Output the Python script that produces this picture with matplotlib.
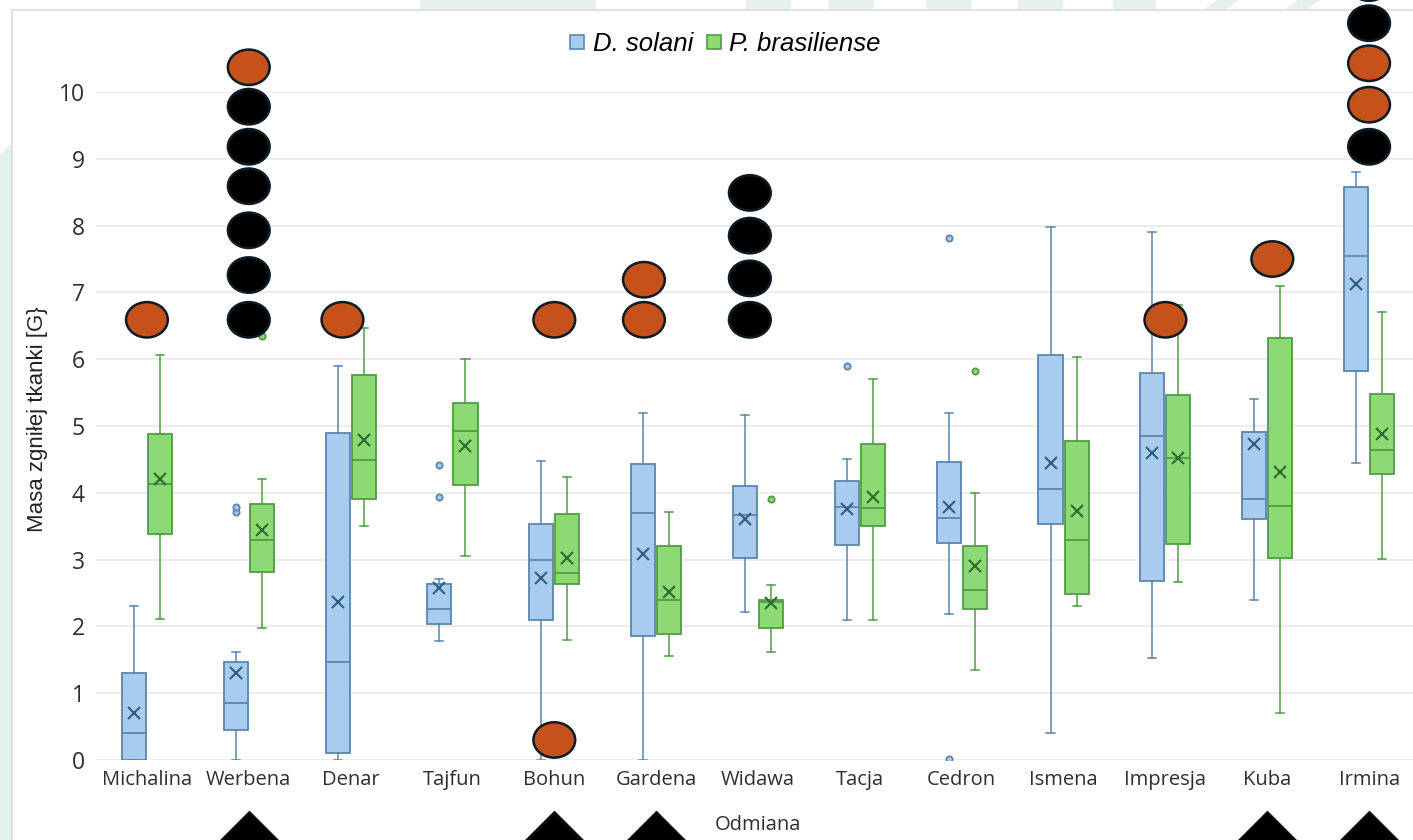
import matplotlib
matplotlib.use("Agg")
import matplotlib.pyplot as plt
from matplotlib.patches import Ellipse, Rectangle, Polygon
from matplotlib.lines import Line2D

odmiany = ["Michalina", "Werbena", "Denar", "Tajfun", "Bohun", "Gardena", "Widawa",
           "Tacja", "Cedron", "Ismena", "Impresja", "Kuba", "Irmina"]

# D. solani
ds_whislo = [0.0, 0.0, 0.0, 1.78, 0.0, 0.0, 2.21, 2.10, 2.19, 0.40, 1.52, 2.40, 4.45]
ds_q1 = [0.0, 0.45, 0.11, 2.03, 2.10, 1.85, 3.02, 3.22, 3.25, 3.54, 2.68, 3.61, 5.83]
ds_med = [0.41, 0.86, 1.46, 2.26, 3.00, 3.70, 3.67, 3.79, 3.63, 4.06, 4.85, 3.90, 7.55]
ds_q3 = [1.30, 1.47, 4.90, 2.63, 3.54, 4.43, 4.10, 4.17, 4.46, 6.06, 5.80, 4.91, 8.58]
ds_whishi = [2.31, 1.61, 5.90, 2.71, 4.47, 5.20, 5.16, 4.50, 5.20, 7.98, 7.91, 5.41, 8.80]
ds_mean = [0.71, 1.30, 2.37, 2.58, 2.73, 3.09, 3.61, 3.76, 3.79, 4.44, 4.59, 4.73, 7.13]
ds_fliers = [[], [3.72, 3.79], [], [3.94, 4.41], [], [], [], [5.90], [0.02, 7.82],
             [], [], [], []]

# P. brasiliense
pb_whislo = [2.11, 1.97, 3.50, 3.06, 1.80, 1.56, 1.61, 2.10, 1.35, 2.31, 2.67, 0.70, 3.01]
pb_q1 = [3.38, 2.82, 3.91, 4.12, 2.63, 1.88, 1.98, 3.50, 2.26, 2.48, 3.23, 3.03, 4.28]
pb_med = [4.13, 3.29, 4.49, 4.93, 2.80, 2.40, 2.36, 3.77, 2.55, 3.30, 4.52, 3.80, 4.64]
pb_q3 = [4.88, 3.83, 5.76, 5.35, 3.69, 3.20, 2.40, 4.73, 3.20, 4.78, 5.46, 6.31, 5.48]
pb_whishi = [6.06, 4.20, 6.47, 6.00, 4.24, 3.72, 2.62, 5.70, 4.00, 6.04, 6.81, 7.10, 6.71]
pb_mean = [4.20, 3.44, 4.79, 4.70, 3.03, 2.52, 2.35, 3.94, 2.90, 3.73, 4.52, 4.31, 4.88]
pb_fliers = [[], [6.34], [], [], [], [], [3.90], [], [5.83], [], [], [], []]

# ellipse markers drawn over the chart (odmiana index, y, colour)
kolka_odm = [0, 1, 1, 1, 1, 1, 1, 1, 2, 4, 4, 5, 5, 6, 6, 6, 6, 10, 11,
             12, 12, 12, 12, 12]
kolka_y = [6.59, 6.59, 7.26, 7.93, 8.59, 9.18, 9.78, 10.37, 6.59, 6.59, 0.30,
           6.59, 7.19, 6.59, 7.21, 7.85, 8.49, 6.59, 7.50,
           9.18, 9.81, 10.43, 11.03, 11.63]
kolka_kol = ["o", "c", "c", "c", "c", "c", "c", "o", "o", "o", "o", "o", "o",
             "c", "c", "c", "c", "o", "o", "c", "o", "o", "c", "c"]
kolka_dx = {2: -0.08, 5: -0.12, 6: -0.08, 11: 0.05}

trojkaty = [1, 4, 5, 11, 12]

blue_fc, blue_ec, blue_dk = "#A8CBEE", "#5A86AD", "#2C5E82"
green_fc, green_ec, green_dk = "#8DD973", "#519B46", "#2E6B2E"
orange = "#C4521A"

W, H = 1413, 840
fig = plt.figure(figsize=(W / 100, H / 100), dpi=100)
fig.patch.set_facecolor("white")

# faint background shapes
mint = "#E7F1EB"
fig.patches.append(Polygon([(0, 0), (12 / W, 0), (12 / W, 1 - 143 / H), (0, 1 - 155 / H)],
                           closed=True, transform=fig.transFigure, fc=mint, ec="none", zorder=-3))
for x0, x1 in [(420, 596), (746, 791), (829, 874), (926, 971), (1018, 1063), (1113, 1156)]:
    fig.patches.append(Rectangle((x0 / W, 1 - 10 / H), (x1 - x0) / W, 10 / H,
                                 transform=fig.transFigure, fc=mint, ec="none", zorder=-3))
for x0 in [1203, 1284]:
    fig.patches.append(Polygon([(x0 / W, 1 - 10 / H), ((x0 + 22) / W, 1 - 10 / H),
                                ((x0 + 36) / W, 1), ((x0 + 14) / W, 1)], closed=True,
                               transform=fig.transFigure, fc=mint, ec="none", zorder=-3))
fig.patches.append(Rectangle((12 / W, -0.01), 1.0, 1 - 10 / H + 0.01, transform=fig.transFigure,
                             fc="white", ec="#DCDCDC", lw=1.2, zorder=-2))

ax = fig.add_axes([96 / W, 80 / H, 1324 / W, 668 / H])
ax.set_facecolor("none")
ax.set_xlim(-0.5, len(odmiany) - 0.5)
ax.set_ylim(0, 10)


def staty(lo, q1, med, q3, hi, mean, fl):
    return [dict(whislo=lo[i], q1=q1[i], med=med[i], q3=q3[i], whishi=hi[i],
                 mean=mean[i], fliers=fl[i]) for i in range(len(lo))]


pos = list(range(len(odmiany)))
for stats, dx, fc, ec, dk in [
        (staty(ds_whislo, ds_q1, ds_med, ds_q3, ds_whishi, ds_mean, ds_fliers), -0.128,
         blue_fc, blue_ec, blue_dk),
        (staty(pb_whislo, pb_q1, pb_med, pb_q3, pb_whishi, pb_mean, pb_fliers), 0.128,
         green_fc, green_ec, green_dk)]:
    ax.bxp(stats, positions=[p + dx for p in pos], widths=0.236, patch_artist=True,
           showmeans=True, capwidths=0.08, manage_ticks=False,
           boxprops=dict(facecolor=fc, edgecolor=ec, linewidth=1.3),
           medianprops=dict(color=ec, linewidth=1.3),
           whiskerprops=dict(color=ec, linewidth=1.1),
           capprops=dict(color=ec, linewidth=1.1),
           meanprops=dict(marker="x", markeredgecolor=dk, markersize=9, markeredgewidth=1.5),
           flierprops=dict(marker="o", markersize=4.5, markerfacecolor=fc,
                           markeredgecolor=ec, markeredgewidth=1.3))

for i, y, k in zip(kolka_odm, kolka_y, kolka_kol):
    ax.add_patch(Ellipse((i + kolka_dx.get(i, 0), y), 0.41, 0.53,
                         fc=orange if k == "o" else "black", ec="#0E1A24",
                         lw=1.8, clip_on=False, zorder=5))

ax.plot(trojkaty, [-1.44] * len(trojkaty), linestyle="none", marker="D", markersize=46,
        color="black", markeredgecolor="#0E1A24", clip_on=False, zorder=5)

ax.set_yticks(range(0, 11))
ax.set_xticks(pos)
ax.set_xticklabels(odmiany, fontsize=14.5, fontfamily="Open Sans", color="#2E2E2E")
for t in ax.get_yticklabels():
    t.set_fontsize(16.5)
    t.set_fontfamily("Open Sans")
    t.set_color("#2E2E2E")
ax.tick_params(length=0)
ax.tick_params(axis="y", pad=8)
ax.tick_params(axis="x", pad=7)
ax.grid(axis="y", color="#EAEAEA", linewidth=1.3)
ax.set_axisbelow(True)
for s in ax.spines.values():
    s.set_visible(False)

ax.set_ylabel("Masa zgniłej tkanki [G}", fontsize=16, fontfamily="Liberation Sans",
              color="#222222")
ax.yaxis.set_label_coords(-0.036, 0.51)
ax.set_xlabel("Odmiana", fontsize=14.5, fontfamily="Open Sans", color="#2E2E2E", labelpad=18)

handles = [Line2D([], [], linestyle="none", marker="s", markersize=10,
                  markerfacecolor=blue_fc, markeredgecolor=blue_ec, markeredgewidth=1.2),
           Line2D([], [], linestyle="none", marker="s", markersize=10,
                  markerfacecolor=green_fc, markeredgecolor=green_ec, markeredgewidth=1.2)]
fig.legend(handles, ["D. solani", "P. brasiliense"], loc="center", ncol=2,
           bbox_to_anchor=(725 / W, 1 - 44 / H), frameon=False, handlelength=0.6,
           handletextpad=0.3, columnspacing=0.5,
           prop=dict(family="Liberation Sans", style="italic", size=18.5))

fig.savefig("out.png", dpi=100)
